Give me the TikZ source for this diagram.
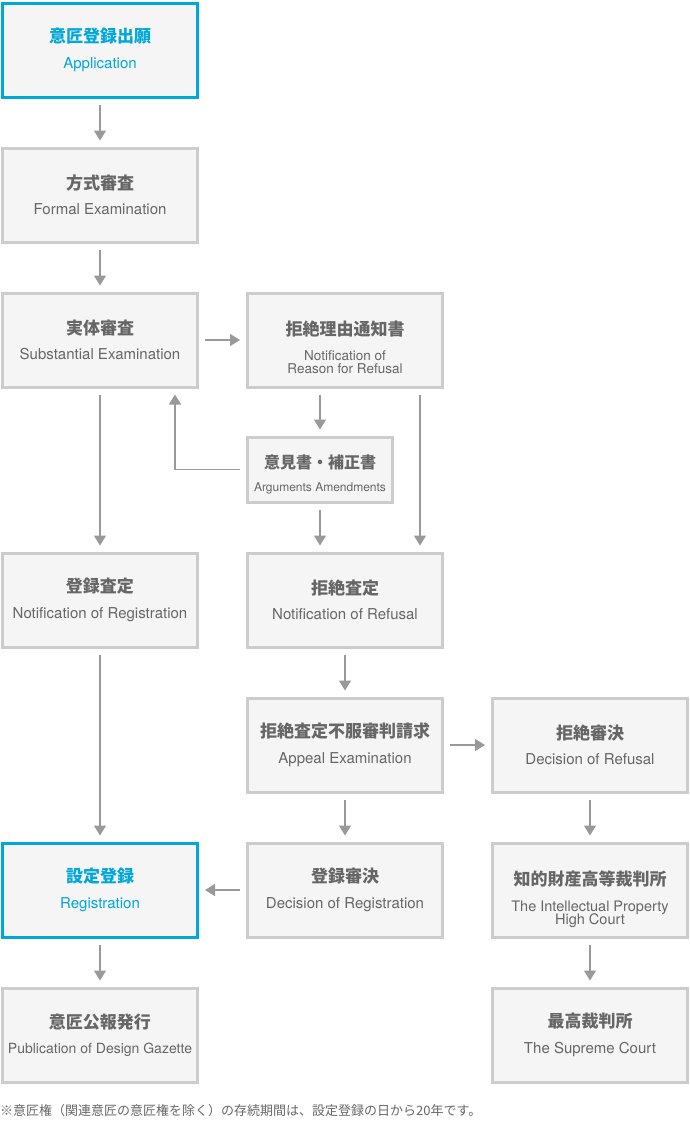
\documentclass[tikz,border=0pt]{standalone}
\usepackage{fontspec}
\setmainfont{TeX Gyre Heros}
\newfontfamily\jp{Noto Sans CJK JP}
\usetikzlibrary{arrows.meta,positioning}

\definecolor{flowblue}{HTML}{00A7DB}
\definecolor{boxgray}{HTML}{CCCCCC}
\definecolor{boxfill}{HTML}{F5F5F5}
\definecolor{txtgray}{HTML}{666666}
\definecolor{arrgray}{HTML}{999999}

\newcommand\jtitle[1]{{\jp\bfseries\fontsize{17}{23.5}\selectfont #1}}

\begin{document}
\begin{tikzpicture}[x=1pt, y=-1pt, node distance=48pt and 47pt,
        stepbox/.style={draw=boxgray, fill=boxfill, line width=3pt, minimum width=195pt, minimum height=94pt,
        align=center, text=txtgray, font=\fontsize{15}{23.5}\selectfont},
        bluebox/.style={stepbox, draw=flowblue, text=flowblue},
        argbox/.style={stepbox, minimum width=145pt, minimum height=65pt},
        arr/.style={draw=arrgray, line width=1.5pt, -{Triangle[width=12pt,length=10pt]}, shorten >=6pt, shorten <=6pt}]

        \useasboundingbox (0,0) rectangle (690,1125);

        \node[bluebox] (app) at (100,50) {\jtitle{意匠登録出願}\\[2pt]Application};
        \node[stepbox, below=of app] (formal) {\jtitle{方式審査}\\[2pt]Formal Examination};
        \node[stepbox, below=of formal] (subst) {\jtitle{実体審査}\\[2pt]Substantial Examination};
        \node[stepbox, right=of subst] (reason) {\mbox{}\\[5.5pt]\jtitle{拒絶理由通知書}\\[2pt]
            \fontsize{13.5}{13}\selectfont Notification of\\[-10.5pt]\fontsize{13.5}{13}\selectfont Reason for Refusal};
        \node[argbox, below=47pt of reason.south west, anchor=north west] (args)
            {\mbox{}\\[0pt]{\jp\bfseries\fontsize{16}{24}\selectfont 意見書・補正書}\\\fontsize{12}{24}\selectfont Arguments Amendments};

        \node[stepbox, below=163pt of subst] (regnote) {\jtitle{登録査定}\\[2pt]Notification of Registration};
        \node[stepbox, right=of regnote] (refusal) {\jtitle{拒絶査定}\\[2pt]Notification of Refusal};
        \node[stepbox, below=of refusal] (appeal) {\jtitle{拒絶査定不服審判請求}\\[2pt]Appeal Examination};
        \node[stepbox, right=of appeal] (decref) {\jtitle{拒絶審決}\\[2pt]Decision of Refusal};
        \node[stepbox, below=of appeal] (decreg) {\jtitle{登録審決}\\[2pt]Decision of Registration};
        \node[bluebox, left=of decreg] (regist) {\jtitle{設定登録}\\[2pt]Registration};
        \node[stepbox, below=of decref] (ipcourt) {\mbox{}\\[9.5pt]\jtitle{知的財産高等裁判所}\\[2pt]
            \fontsize{14.5}{13}\selectfont The Intellectual Property\\[-10.5pt]\fontsize{14.5}{13}\selectfont High Court};
        \node[stepbox, below=of regist] (gazette) {\jtitle{意匠公報発行}\\[2pt]\fontsize{14}{23.5}\selectfont Publication of Design Gazette};
        \node[stepbox, below=of ipcourt] (supreme) {\jtitle{最高裁判所}\\[2pt]The Supreme Court};

        \node[anchor=west, inner sep=0pt, text=txtgray, font=\jp\fontsize{13}{15}\selectfont] (note) at (0,1111)
            {※意匠権（関連意匠の意匠権を除く）の存続期間は、設定登録の日から20年です。};

        \draw[arr] (app) -- (formal);
        \draw[arr] (formal) -- (subst);
        \draw[arr] (subst) -- (reason);
        \draw[arr] (reason.south -| args) -- (args);
        \draw[arr] (args) -| ([xshift=75pt]subst.south);
        \draw[arr] (args) -- (args |- refusal.north);
        \draw[arr] ([xshift=75pt]reason.south) -- ([xshift=75pt]reason.south |- refusal.north);
        \draw[arr] (subst) -- (regnote);
        \draw[arr] (regnote) -- (regist);
        \draw[arr] (refusal) -- (appeal);
        \draw[arr] (appeal) -- (decref);
        \draw[arr] (appeal) -- (decreg);
        \draw[arr] (decreg) -- (regist);
        \draw[arr] (decref) -- (ipcourt);
        \draw[arr] (regist) -- (gazette);
        \draw[arr] (ipcourt) -- (supreme);

    \end{tikzpicture}
\end{document}
